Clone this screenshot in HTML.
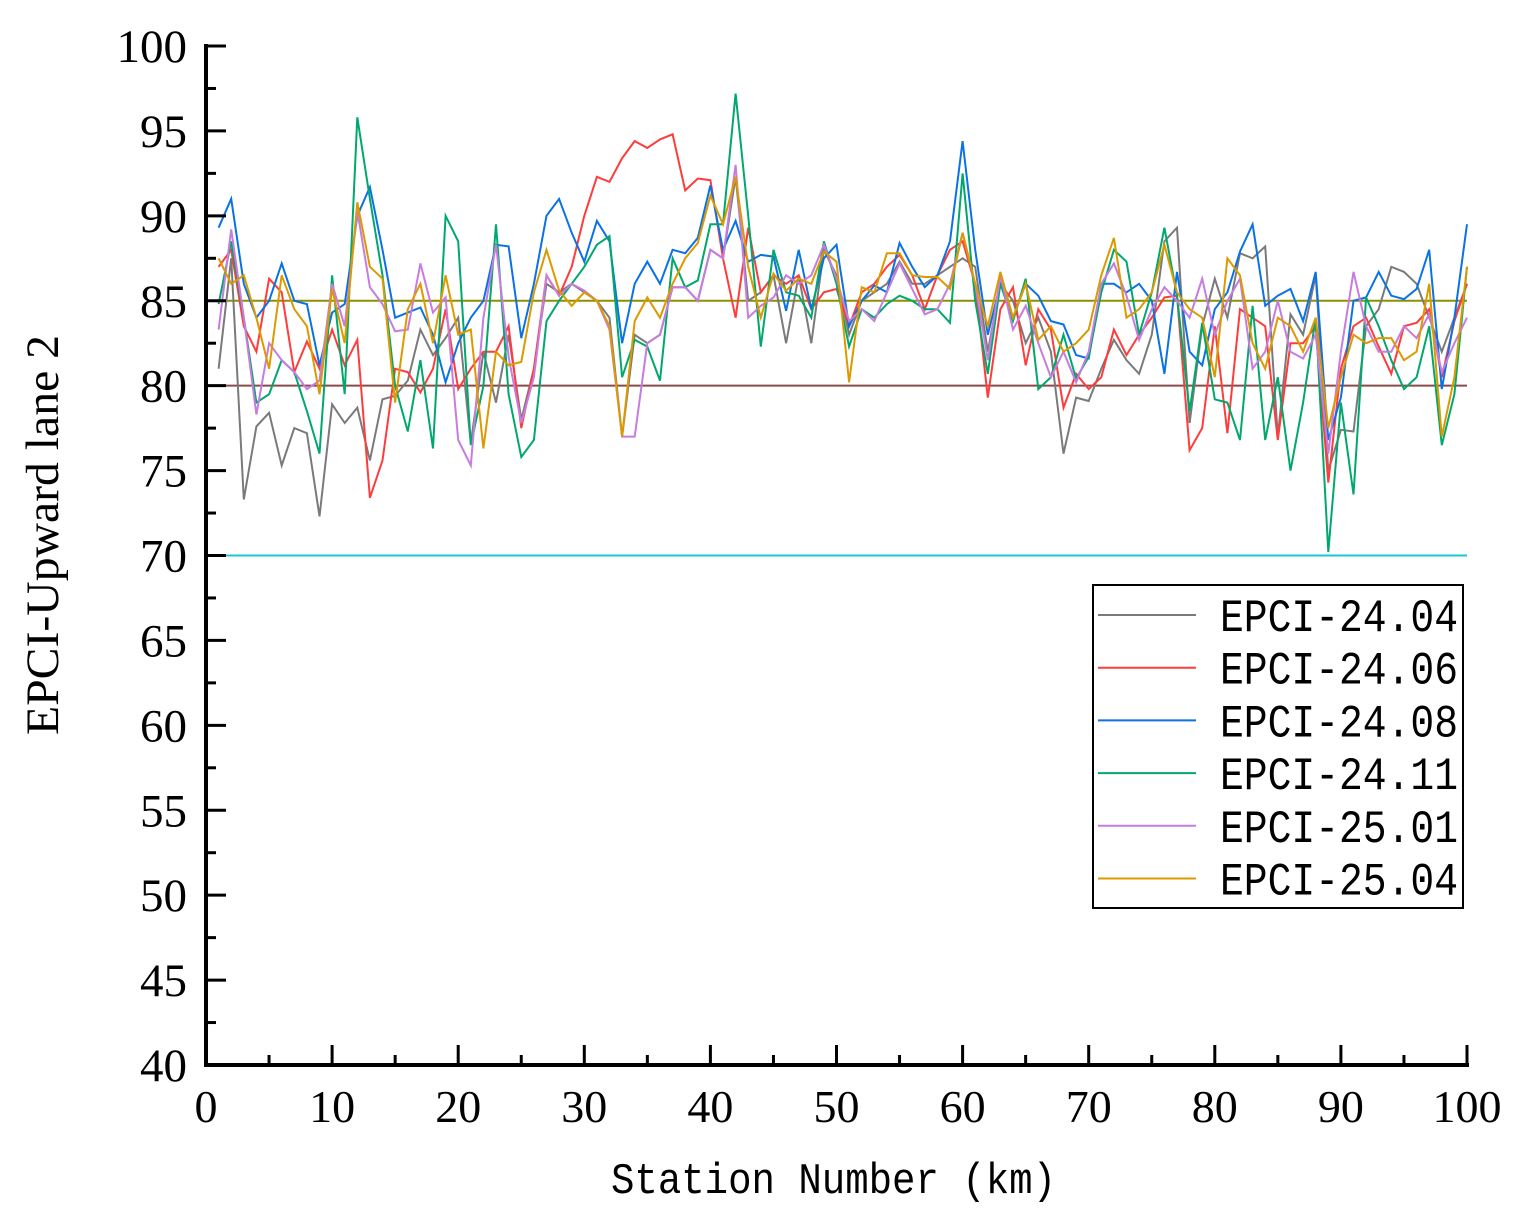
<!DOCTYPE html>
<html><head><meta charset="utf-8"><style>
html,body{margin:0;padding:0;background:#fff;}
svg{display:block;}
</style></head><body>
<svg id="chart" width="1519" height="1216" viewBox="0 0 1519 1216" xmlns="http://www.w3.org/2000/svg">
<g id="refs"></g>
<g id="series"></g>
<g id="axes"></g>
<g id="legend"></g>
</svg>
<script>
const stations = Array.from({length:100},(_, i)=>i+1);
const s2404 = [81,87.5,73.3,77.6,78.4,75.3,77.5,77.2,72.3,78.9,77.8,78.7,75.6,79.2,79.4,80.3,83.3,81.8,82.8,84,76.6,82,79,83,78,81,86,85.5,86,85.5,85,84,77,83,82.5,83,85.8,85.8,85,88,87.5,92.3,85,85.5,86.5,82.5,86.5,82.5,88,86.5,83,85,85.5,86,87.3,86,86,86.5,87,87.5,87,82,86,85,82.5,84,82,76,79.3,79.1,81,82.7,81.5,80.7,83,88.5,89.3,77.8,83.5,86.3,84,87.8,87.5,88.2,77,84.2,83,86.5,75,77.4,77.3,83.5,84.5,87,86.7,86,84,82,84,86];
const s2406 = [87,88,83.5,82,86.3,85.5,80.8,82.6,81,83.3,81.2,82.7,73.4,75.6,81,80.8,79.6,81,84.5,79.8,81,82,82,83.5,77.5,81,86.5,85.3,87,90,92.3,92,93.4,94.4,94,94.5,94.8,91.5,92.2,92.1,87.5,84,89.3,85.5,86.5,86,86.5,84.5,85.5,85.7,83.5,85.5,86,87,87.7,86.5,84.5,86.5,88,88.5,86,79.3,84.5,85.8,81.2,84.5,83.3,78.7,80.7,79.8,80.5,83.3,81.8,83,84,85.2,85.3,76.2,77.5,83.5,77.2,84.5,84,83.5,76.8,82.5,82.5,83.5,74.3,81,83.5,84,82.3,80.7,83.5,83.7,84.5,80.5,83.8,86];
const s2408 = [89.3,91,86,84,85,87.2,85,84.8,81.2,84.3,84.8,90,91.7,88,84,84.3,84.6,83,80.2,82.5,84,85,88.3,88.2,82.8,86,90,91,89,87.3,89.7,88.5,82.5,86,87.3,86,88,87.8,88.7,91.8,88,89.7,87.3,87.7,87.6,84.4,88,84.5,87.5,88.3,83.5,85,85.9,85.5,88.4,87,85.8,86.5,88.5,94.4,88,83,86,84,86,85.3,83.8,83.6,81.8,81.6,86,86,85.5,86,85,80.7,86.7,82,81.2,84.5,85.5,87.9,89.5,84.7,85.3,85.7,83.8,86.7,76.8,79.3,85,85.2,86.7,85.3,85.1,85.7,88,79.8,84,89.5];
const s2411 = [84.8,88.5,84,79,79.5,81.5,80.8,78.5,76,86.5,79.5,95.8,91,86.5,80,77.3,81.5,76.3,90,88.5,76.5,80,89.5,79.5,75.8,76.8,83.8,85,86,87,88.3,88.8,80.5,82.7,82.3,80.3,87.5,85.8,86.2,89.5,89.5,97.2,90,82.3,88,85.5,85.3,84,88.5,86,82.3,84.5,84,84.8,85.3,85,84.5,84.5,83.7,92.5,85,80.7,86,83.8,86.3,79.8,80.5,83,80.4,81.7,85.5,88,87.3,83,85.5,89.3,85.3,78.5,83.7,79.2,79,76.8,84.7,76.8,80.5,75,79,84,70.2,79,73.6,85.2,83.5,81.5,79.8,80.5,83.5,76.5,79.5,87];
const s2501 = [83.3,89.2,84,78.3,82.5,81.5,80.8,79.8,80.3,86,83.5,90.3,85.8,84.8,83.2,83.3,87.2,84.3,85.2,76.8,75.3,84,88.3,81.7,77.8,80.5,86.5,85.3,86,85.6,85,83.3,77,77,82.5,83,85.8,85.8,85,88,87.5,93,84,84.7,85.2,86.5,86,86.5,88.3,86.3,83.8,84.5,83.8,85.5,87.2,85.7,84.2,84.5,86,89,86,81.5,86.5,83.3,84.7,82.5,80.5,82,80.2,82,86,87.2,85.3,82.7,84.5,85.8,85,84,86.3,83,85,86.3,81,82,85,82,81.6,83,76,82,86.7,83.5,82,82,83.5,82.8,84.2,80.8,82.5,84];
const s2504 = [87.5,86,86.5,84,81,86.5,84.5,83.5,79.5,85.7,82.5,90.8,87,86.3,79,84.5,86,82.5,86.5,83,83.3,76.3,82,81.2,81.4,85.5,88,85.6,84.7,85.5,85,83.5,77,83.8,85.2,84,86,87.5,88.4,91.2,89.5,92.3,87,84,86.6,85.6,86.3,86,87.9,87.3,80.2,85.8,85.5,87.8,87.8,86.5,86.4,86.4,85.7,89,86,83.5,86.7,84,86,82.7,83.5,82,82.5,83.3,86.5,88.7,84,84.5,85.5,88.3,85.5,84.5,84,80.5,87.5,86.5,82.5,81,84,83.5,82,84,77.5,80.5,83,82.5,82.8,82.8,81.5,82,86,77,80.5,87];
const seriesNames = ["EPCI-24.04","EPCI-24.06","EPCI-24.08","EPCI-24.11","EPCI-25.01","EPCI-25.04"];
const seriesColors = ["#7a7a7a","#ff3c3c","#0a72e6","#00a86b","#c77ce0","#dc9a00"];
const refValues = [85,80,70];
const refColors = ["#8f8f00","#8b4a4a","#19c8cc"];
const xTicks = [0,10,20,30,40,50,60,70,80,90,100];
const yTicks = [40,45,50,55,60,65,70,75,80,85,90,95,100];

const NS="http://www.w3.org/2000/svg";
const X0=206,X1=1467,Y0=1065,Y1=46;
const xs=v=>X0+(v-0)/100*(X1-X0);
const ys=v=>Y0-(v-40)/60*(Y0-Y1);
function mk(tag,attrs,parent){const e=document.createElementNS(NS,tag);for(const k in attrs)e.setAttribute(k,attrs[k]);parent.appendChild(e);return e;}
const refs=document.getElementById('refs'),ser=document.getElementById('series'),ax=document.getElementById('axes'),lg=document.getElementById('legend');

refValues.forEach((v,i)=>{
  const l=mk('line',{x1:X0,x2:X1,y1:ys(v),y2:ys(v),stroke:refColors[i],'stroke-width':2},refs);
  
  
});

const allSeries=[s2404,s2406,s2408,s2411,s2501,s2504];
allSeries.forEach((arr,i)=>{
  const pts=arr.map((v,j)=>xs(stations[j]).toFixed(1)+','+ys(v).toFixed(1)).join(' ');
  const p=mk('polyline',{points:pts,fill:'none',stroke:seriesColors[i],'stroke-width':2,'stroke-linejoin':'miter'},ser);
  
  
});

const ya=mk('line',{x1:X0,x2:X0,y1:Y1-2,y2:Y0+2,stroke:'#000','stroke-width':4},ax);


const xa=mk('line',{x1:X0-2,x2:X1+2,y1:Y0,y2:Y0,stroke:'#000','stroke-width':4},ax);


yTicks.forEach(v=>{
  mk('line',{x1:X0,x2:X0+20,y1:ys(v),y2:ys(v),stroke:'#000','stroke-width':3},ax);
  if(v<100) mk('line',{x1:X0,x2:X0+10,y1:ys(v+2.5),y2:ys(v+2.5),stroke:'#000','stroke-width':3},ax);
  const t=mk('text',{x:X0-19,y:ys(v)+16,'text-anchor':'end','font-family':'Liberation Serif, serif','font-size':47},ax);
  t.textContent=v;
  
  
});
xTicks.forEach(v=>{
  mk('line',{x1:xs(v),x2:xs(v),y1:Y0,y2:Y0-20,stroke:'#000','stroke-width':3},ax);
  if(v<100) mk('line',{x1:xs(v+5),x2:xs(v+5),y1:Y0,y2:Y0-10,stroke:'#000','stroke-width':3},ax);
  const t=mk('text',{x:xs(v),y:1122,'text-anchor':'middle','font-family':'Liberation Serif, serif','font-size':46},ax);
  t.textContent=v;
  
  
});
const xt=mk('text',{x:611,y:1193,textLength:445,lengthAdjust:'spacingAndGlyphs','font-family':'Liberation Mono, monospace','font-size':44},ax);
xt.textContent='Station Number (km)';


const yt=mk('text',{x:0,y:0,'text-anchor':'middle',textLength:400,lengthAdjust:'spacingAndGlyphs','font-family':'Liberation Serif, serif','font-size':47,transform:'translate(58,535) rotate(-90)'},ax);
yt.textContent='EPCI-Upward lane 2';



const lb=mk('rect',{x:1093,y:585,width:370,height:323,fill:'#fff',stroke:'#000','stroke-width':2},lg);


seriesNames.forEach((n,i)=>{
  const cy=615+i*52.7;
  const g=mk('g',{},lg);
  
  
  mk('line',{x1:1098,x2:1196,y1:cy,y2:cy,stroke:seriesColors[i],'stroke-width':2},g);
  const t=mk('text',{x:1220,y:cy+16,textLength:238,lengthAdjust:'spacingAndGlyphs','font-family':'Liberation Mono, monospace','font-size':46},g);
  t.textContent=n;
});
</script>
</body></html>
